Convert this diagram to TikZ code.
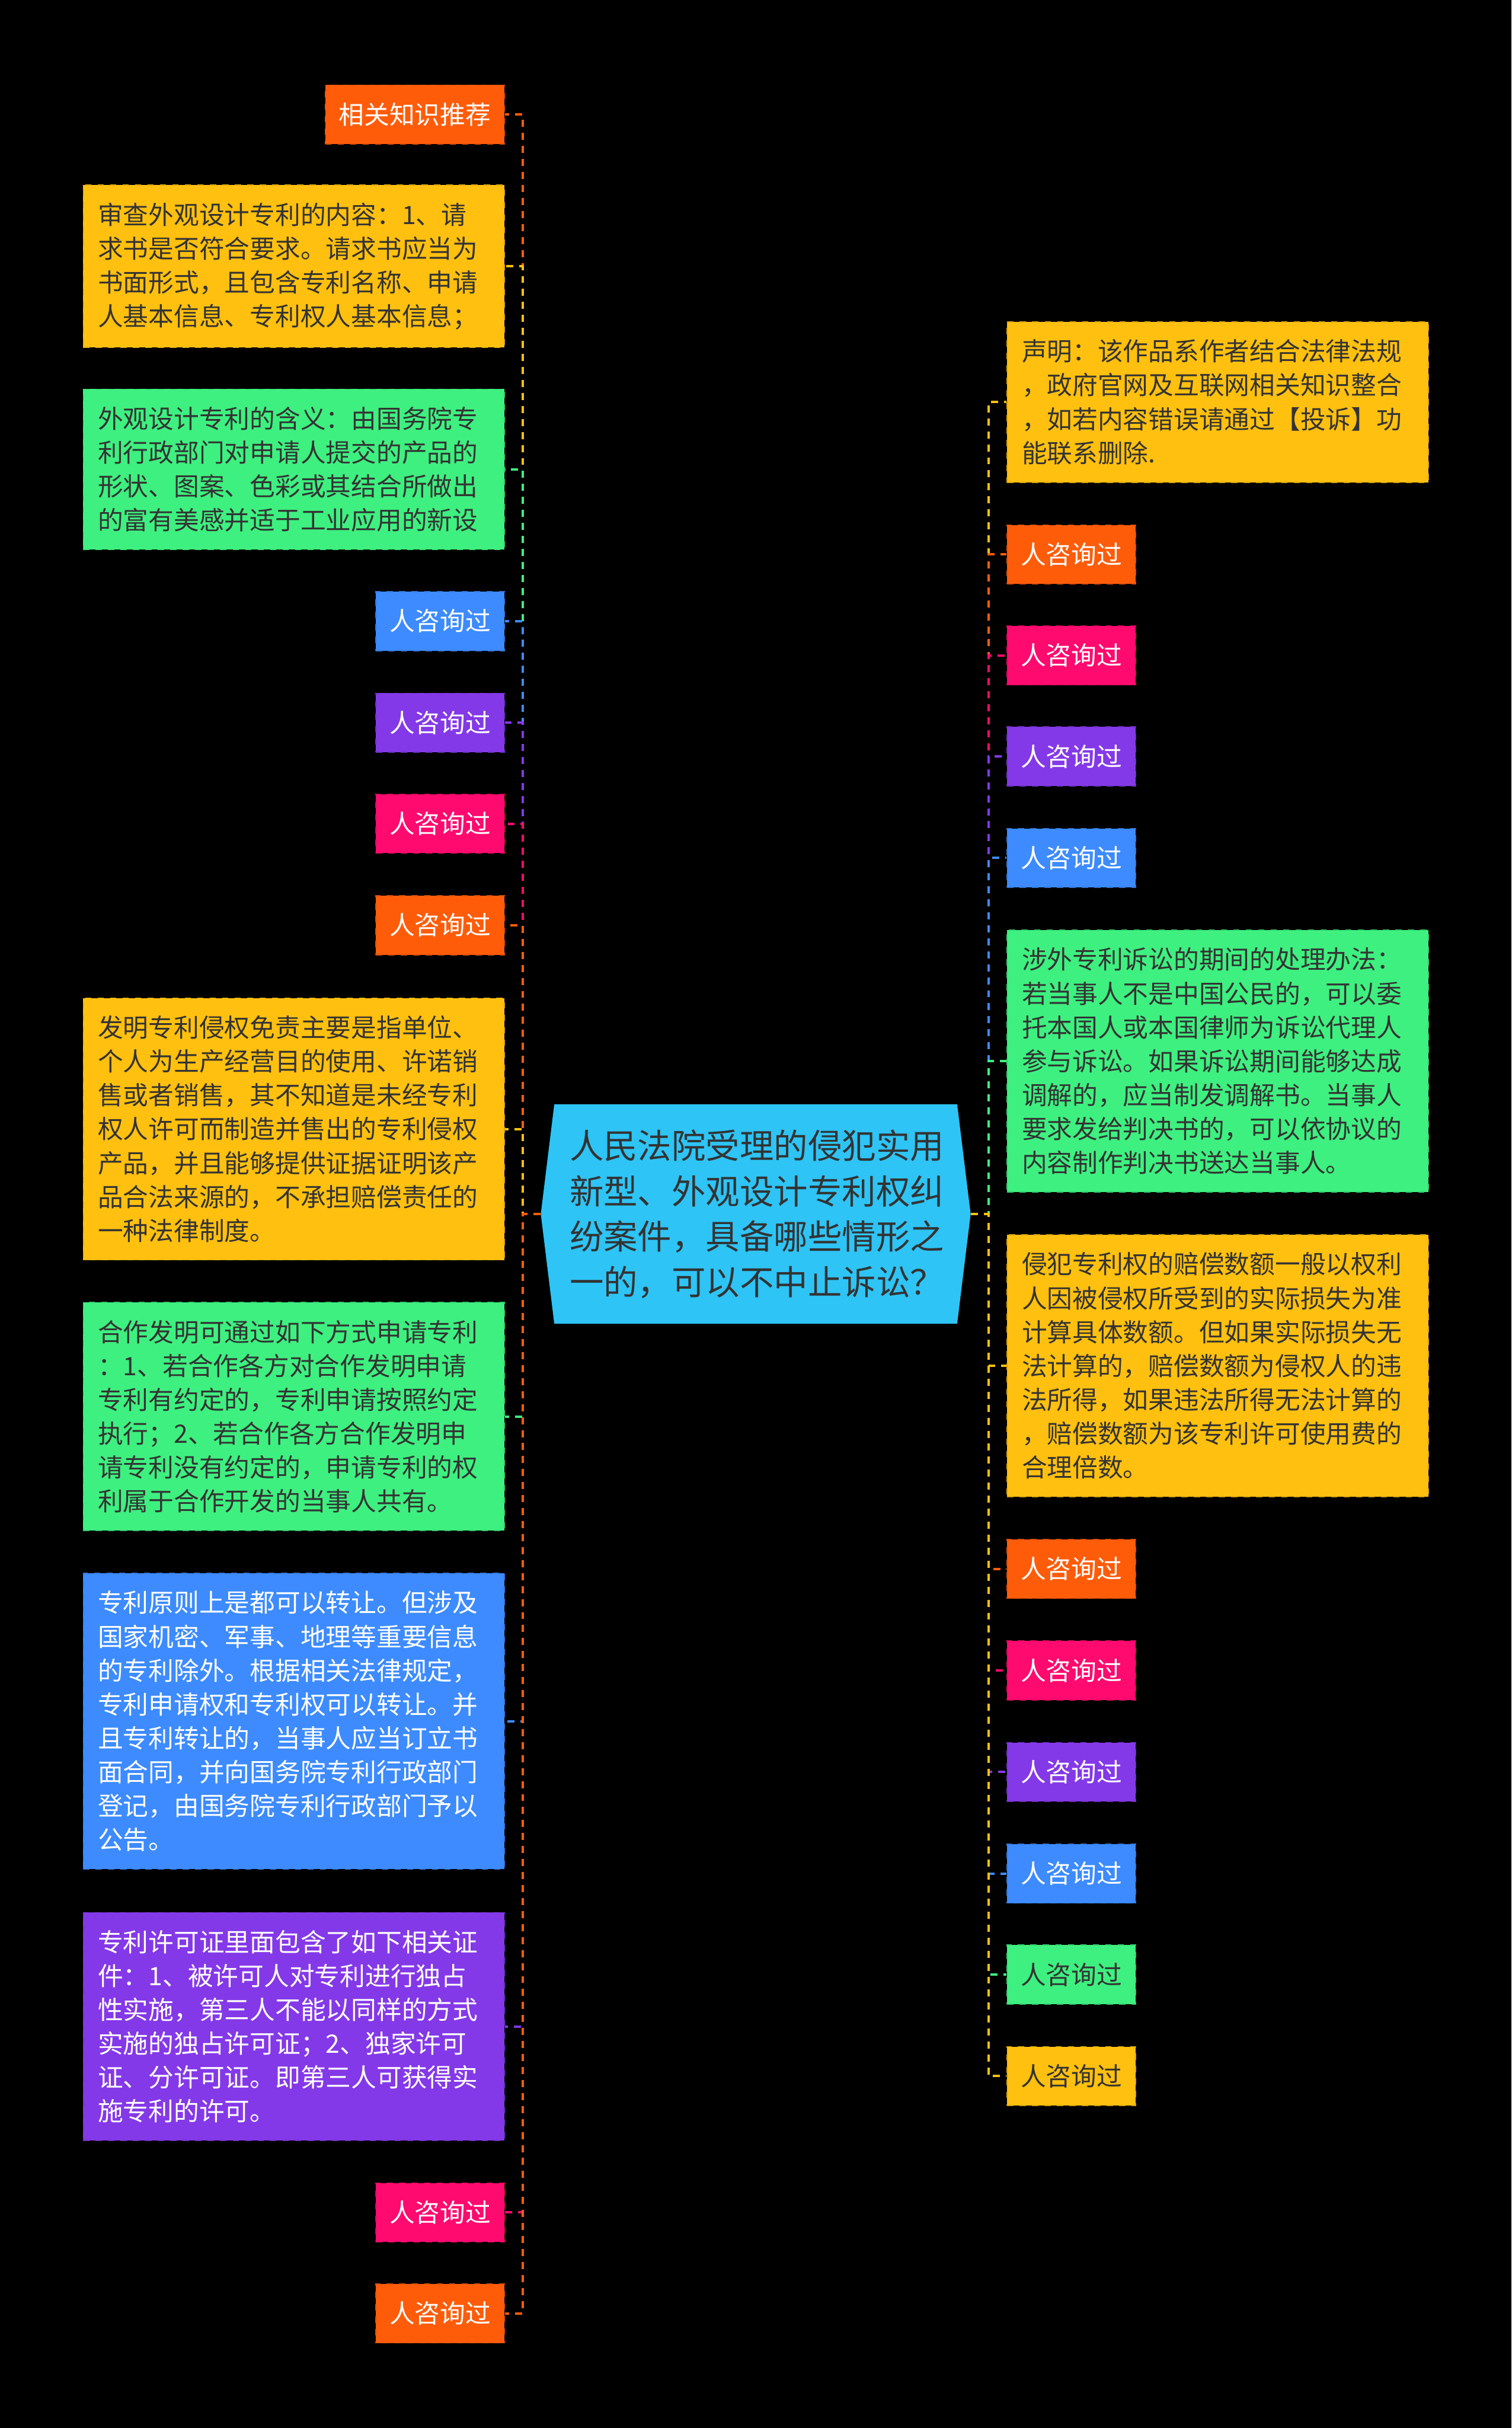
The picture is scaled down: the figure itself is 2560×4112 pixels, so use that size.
\documentclass[tikz,border=0pt]{standalone}
\usepackage{fontspec}
\setmainfont{Noto Sans CJK SC}
\usepackage{xcolor}
\usepackage{tikz}
\usetikzlibrary{shapes.symbols}

\definecolor{cOrange}{HTML}{FF5C0A}
\definecolor{cYellow}{HTML}{FFC00F}
\definecolor{cGreen}{HTML}{3EF080}
\definecolor{cBlue}{HTML}{3D8BFF}
\definecolor{cPurple}{HTML}{8439E8}
\definecolor{cPink}{HTML}{FF0A6E}
\definecolor{cCyan}{HTML}{2EC4F5}
\definecolor{cText}{HTML}{333333}

\begin{document}
\begin{tikzpicture}[x=0.01cm, y=-0.01cm,
  tag/.style={draw=#1!85!black, fill=#1, dashed, line width=0.015cm,
              inner xsep=0.23cm, inner ysep=0cm, minimum height=1cm,
              text=white, font=\fontsize{12.2}{16.3}\selectfont},
  note/.style={draw=#1!85!black, fill=#1, dashed, line width=0.015cm,
               inner xsep=0.25cm, inner ysep=0.3cm, text width=6.63cm,
               align=left, text=white, font=\fontsize{12.2}{16.3}\selectfont},
  dark/.style={text=cText},
  root/.style={shape=signal, signal to=west and east, signal pointer angle=166,
               fill=cCyan, text=cText, align=center, text width=6.3cm,
               inner xsep=0.26cm, inner ysep=0.43cm,
               font=\fontsize{16.4}{21.85}\selectfont},
  link/.style={draw=#1, line width=0.04cm, dash pattern=on 0.12cm off 0.1cm}
]
\fill[black] (0,0) rectangle (2560,4112);
\useasboundingbox (0,0) rectangle (2560,4112);

% centre
\node[root] (root) at (1280,2056)
  {人民法院受理的侵犯实用\\新型、外观设计专利权纠\\纷案件，具备哪些情形之\\一的，可以不中止诉讼？};
\coordinate (lt) at (885,2056);
\coordinate (rt) at (1674,2056);

% left branch
\node[tag=cOrange, anchor=east] (l1) at (855,194) {相关知识推荐};
\node[note=cYellow, dark, anchor=east] (l2) at (855,451)
  {审查外观设计专利的内容：1、请\\求书是否符合要求。请求书应当为\\书面形式，且包含专利名称、申请\\人基本信息、专利权人基本信息；};
\node[note=cGreen, dark, anchor=east] (l3) at (855,795)
  {外观设计专利的含义：由国务院专\\利行政部门对申请人提交的产品的\\形状、图案、色彩或其结合所做出\\的富有美感并适于工业应用的新设};
\node[tag=cBlue, anchor=east] (l4) at (855,1052) {人咨询过};
\node[tag=cPurple, anchor=east] (l5) at (855,1224) {人咨询过};
\node[tag=cPink, anchor=east] (l6) at (855,1395) {人咨询过};
\node[tag=cOrange, anchor=east] (l7) at (855,1567) {人咨询过};
\node[note=cYellow, dark, anchor=east] (l8) at (855,1912)
  {发明专利侵权免责主要是指单位、\\个人为生产经营目的使用、许诺销\\售或者销售，其不知道是未经专利\\权人许可而制造并售出的专利侵权\\产品，并且能够提供证据证明该产\\品合法来源的，不承担赔偿责任的\\一种法律制度。};
\node[note=cGreen, dark, anchor=east] (l9) at (855,2399)
  {合作发明可通过如下方式申请专利\\：1、若合作各方对合作发明申请\\专利有约定的，专利申请按照约定\\执行；2、若合作各方合作发明申\\请专利没有约定的，申请专利的权\\利属于合作开发的当事人共有。};
\node[note=cBlue, anchor=east] (l10) at (855,2915)
  {专利原则上是都可以转让。但涉及\\国家机密、军事、地理等重要信息\\的专利除外。根据相关法律规定，\\专利申请权和专利权可以转让。并\\且专利转让的，当事人应当订立书\\面合同，并向国务院专利行政部门\\登记，由国务院专利行政部门予以\\公告。};
\node[note=cPurple, anchor=east] (l11) at (855,3432)
  {专利许可证里面包含了如下相关证\\件：1、被许可人对专利进行独占\\性实施，第三人不能以同样的方式\\实施的独占许可证；2、独家许可\\证、分许可证。即第三人可获得实\\施专利的许可。};
\node[tag=cPink, anchor=east] (l12) at (855,3747) {人咨询过};
\node[tag=cOrange, anchor=east] (l13) at (855,3918) {人咨询过};

% right branch
\node[note=cYellow, dark, anchor=west] (r1) at (1705,681)
  {声明：该作品系作者结合法律法规\\，政府官网及互联网相关知识整合\\，如若内容错误请通过【投诉】功\\能联系删除.};
\node[tag=cOrange, anchor=west] (r2) at (1705,939) {人咨询过};
\node[tag=cPink, anchor=west] (r3) at (1705,1110) {人咨询过};
\node[tag=cPurple, anchor=west] (r4) at (1705,1281) {人咨询过};
\node[tag=cBlue, anchor=west] (r5) at (1705,1453) {人咨询过};
\node[note=cGreen, dark, anchor=west] (r6) at (1705,1797)
  {涉外专利诉讼的期间的处理办法：\\若当事人不是中国公民的，可以委\\托本国人或本国律师为诉讼代理人\\参与诉讼。如果诉讼期间能够达成\\调解的，应当制发调解书。当事人\\要求发给判决书的，可以依协议的\\内容制作判决书送达当事人。};
\node[note=cYellow, dark, anchor=west] (r7) at (1705,2313)
  {侵犯专利权的赔偿数额一般以权利\\人因被侵权所受到的实际损失为准\\计算具体数额。但如果实际损失无\\法计算的，赔偿数额为侵权人的违\\法所得，如果违法所得无法计算的\\，赔偿数额为该专利许可使用费的\\合理倍数。};
\node[tag=cOrange, anchor=west] (r8) at (1705,2657) {人咨询过};
\node[tag=cPink, anchor=west] (r9) at (1705,2829) {人咨询过};
\node[tag=cPurple, anchor=west] (r10) at (1705,3001) {人咨询过};
\node[tag=cBlue, anchor=west] (r11) at (1705,3173) {人咨询过};
\node[tag=cGreen, dark, anchor=west] (r12) at (1705,3344) {人咨询过};
\node[tag=cYellow, dark, anchor=west] (r13) at (1705,3516) {人咨询过};

% connectors, top to bottom so the lower ones paint over the trunk
\foreach \n/\c in {l1/cOrange, l2/cYellow, l3/cGreen, l4/cBlue, l5/cPurple,
                   l6/cPink, l7/cOrange, l8/cYellow, l9/cGreen, l10/cBlue,
                   l11/cPurple, l12/cPink, l13/cOrange}
  \draw[link=\c] (root.west) -- (lt) |- (\n.east);
\foreach \n/\c in {r1/cYellow, r2/cOrange, r3/cPink, r4/cPurple, r5/cBlue,
                   r6/cGreen, r7/cYellow, r8/cOrange, r9/cPink, r10/cPurple,
                   r11/cBlue, r12/cGreen, r13/cYellow}
  \draw[link=\c] (root.east) -- (rt) |- (\n.west);
\end{tikzpicture}
\end{document}
